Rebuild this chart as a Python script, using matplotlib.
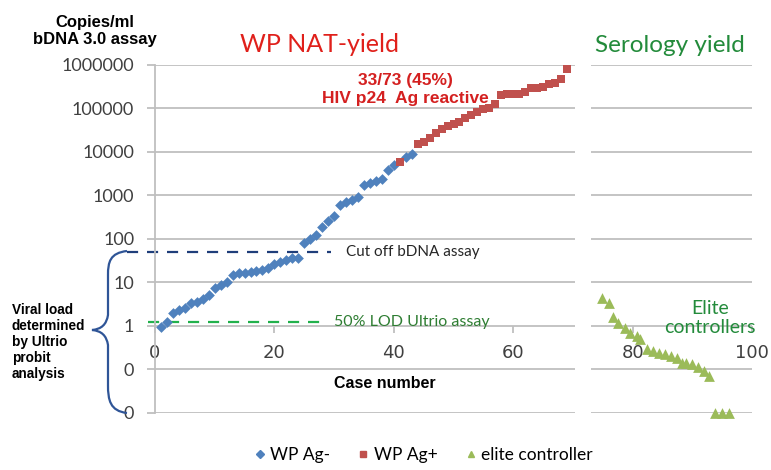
import matplotlib
matplotlib.use("Agg")
import matplotlib.pyplot as plt
from matplotlib.path import Path
from matplotlib.patches import PathPatch
from matplotlib.lines import Line2D

# Datos (copias/ml)
x_ag_neg = [1, 2, 3, 4, 5, 6, 7, 8, 9, 10, 11, 12, 13, 14, 15, 16, 17, 18, 19, 20,
            21, 22, 23, 24, 25, 26, 27, 28, 29, 30, 31, 32, 33, 34, 35, 36, 37, 38,
            39, 40, 42, 43]
y_ag_neg = [0.95, 1.2, 2.0, 2.3, 2.5, 3.4, 3.6, 4.2, 5.0, 7.5, 8.8, 10, 15, 16, 16.5,
            17, 18, 19, 21, 27, 30, 33, 36, 37, 82, 100, 120, 190, 260, 340, 600, 700,
            800, 900, 1700, 1950, 2100, 2400, 3800, 5000, 7500, 9000]

x_ag_pos = [41, 44, 45, 46, 47, 48, 49, 50, 51, 52, 53, 54, 55, 56, 57, 58, 59, 60,
            61, 62, 63, 64, 65, 66, 67, 68, 69]
y_ag_pos = [5800, 15000, 17000, 21000, 27000, 33000, 40000, 44000, 50000, 60000,
            70000, 82000, 95000, 105000, 130000, 200000, 210000, 215000, 220000,
            240000, 290000, 300000, 320000, 360000, 380000, 470000, 820000]

x_elite = [74.8, 76, 76.8, 77.6, 78.7, 79.5, 80.7, 81.2, 82.4, 83.5, 84.4, 85.4,
           86.4, 87.4, 88.2, 89, 90, 90.9, 91.9, 92.8, 93.8, 95, 96.1]
y_elite = [4.4, 3.4, 1.6, 1.17, 0.9, 0.69, 0.59, 0.5, 0.3, 0.26, 0.24, 0.22, 0.2,
           0.18, 0.14, 0.14, 0.13, 0.11, 0.09, 0.07, 0.01, 0.01, 0.01]

y_ticks = [0.01, 0.1, 1, 10, 100, 1000, 10000, 100000, 1000000]
y_tick_labels = ["0", "0", "1", "10", "100", "1000", "10000", "100000", "1000000"]
x_ticks = [0, 20, 40, 60, 80, 100]

cutoff_bdna = 50
lod_ultrio = 1.2

azul = "#4F81BD"
rojo = "#C0504D"
verde = "#9BBB59"
gris = "#BFBFBF"

W, H = 771, 470
fig = plt.figure(figsize=(W / 100, H / 100), dpi=100)
ax = fig.add_axes([155 / W, 1 - 412.7 / H, (752 - 155) / W, (412.7 - 65) / H])

ax.set_yscale("log")
ax.set_ylim(0.01, 1000000)
ax.set_xlim(0, 100)

# Cuadricula horizontal con hueco entre los dos paneles
for v in y_ticks:
    ax.plot([0, 70.3], [v, v], color=gris, lw=1.3, zorder=1, solid_capstyle="butt")
    ax.plot([73.1, 100], [v, v], color=gris, lw=1.3, zorder=1, solid_capstyle="butt")

ax.scatter(x_ag_neg, y_ag_neg, marker="D", s=30, color=azul, zorder=3, linewidths=0,
           clip_on=False)
ax.scatter(x_ag_pos, y_ag_pos, marker="s", s=34, color=rojo, zorder=3, linewidths=0,
           clip_on=False)
ax.scatter(x_elite, y_elite, marker="^", s=60, color=verde, zorder=3, linewidths=0,
           clip_on=False)

# Ejes estilo Excel
for lado in ["top", "right", "bottom"]:
    ax.spines[lado].set_visible(False)
ax.spines["left"].set_color(gris)
ax.spines["left"].set_linewidth(1.3)
ax.set_yticks(y_ticks)
ax.set_yticklabels(y_tick_labels)
ax.yaxis.set_minor_locator(matplotlib.ticker.NullLocator())
ax.tick_params(axis="y", direction="out", length=6, width=1.3, color=gris,
               pad=9, labelsize=13, labelcolor="#404040")
ax.set_xticks(x_ticks)
ax.set_xticklabels([str(t) for t in x_ticks])
ax.tick_params(axis="x", direction="out", length=5, width=1.3, color=gris,
               pad=8, labelsize=13, labelcolor="#404040")
for lbl in ax.get_xticklabels() + ax.get_yticklabels():
    lbl.set_family("Lato")
# el eje horizontal cruza en 1
ax.xaxis.set_ticks_position("bottom")
ax.spines["bottom"].set_position(("data", 1))
ax.spines["bottom"].set_visible(False)

ax.text(38.5, 0.046, "Case number", ha="center", va="center", fontsize=11.5,
        fontweight="bold", family="Liberation Sans")

# Lineas de referencia
ax.plot([-4.7, 29.4], [cutoff_bdna, cutoff_bdna], ls=(0, (5, 4)), color="#1F3E7A",
        lw=1.6, clip_on=False, zorder=2)
ax.plot([-1.2, 28], [lod_ultrio, lod_ultrio], ls=(0, (5, 4)), color="#22B14C",
        lw=1.6, clip_on=False, zorder=2)
ax.text(32, cutoff_bdna, "Cut off bDNA assay", ha="left", va="center", fontsize=11,
        color="#262626", family="Lato")
ax.text(30, lod_ultrio, "50% LOD Ultrio assay", ha="left", va="center", fontsize=11.5,
        color="#2E7D32", family="Lato")

# Textos
fig.text(95 / W, 1 - 31 / H, "Copies/ml\nbDNA 3.0 assay", ha="center", va="center",
         fontsize=12, fontweight="bold", family="Liberation Sans", linespacing=1.2)
fig.text(320 / W, 1 - 44 / H, "WP NAT-yield", ha="center", va="center",
         fontsize=18, color="#E0201B", family="Lato")
fig.text(670 / W, 1 - 46 / H, "Serology yield", ha="center", va="center",
         fontsize=17.5, color="#238B3B", family="Lato")
fig.text(405 / W, 1 - 89 / H, "33/73 (45%)\nHIV p24  Ag reactive", ha="center",
         va="center", fontsize=12.5, fontweight="bold", color="#D42020",
         family="Liberation Sans", linespacing=1.25)
fig.text(710 / W, 1 - 318 / H, "Elite\ncontrollers", ha="center", va="center",
         fontsize=14, color="#238B3B", family="Lato", linespacing=1.1)
fig.text(12 / W, 1 - 342 / H,
         "Viral load\ndetermined\nby Ultrio\nprobit\nanalysis", ha="left",
         va="center", fontsize=9.8, fontweight="bold", family="Liberation Sans",
         linespacing=1.2)

# Llave
def px(x, y):
    return (x / W, 1 - y / H)

verts = [px(127, 251), px(110, 253), px(108, 262), px(108, 275),
         px(108, 315), px(106, 329), px(92, 330),
         px(106, 331), px(108, 345), px(108, 385),
         px(108, 400), px(110, 411), px(127, 413)]
codes = [Path.MOVETO, Path.CURVE4, Path.CURVE4, Path.CURVE4,
         Path.LINETO, Path.CURVE3, Path.CURVE3,
         Path.CURVE3, Path.CURVE3, Path.LINETO,
         Path.CURVE4, Path.CURVE4, Path.CURVE4]
fig.patches.append(PathPatch(Path(verts, codes), transform=fig.transFigure,
                             fill=False, edgecolor="#2F5597", lw=1.6))

# Leyenda
handles = [
    Line2D([], [], marker="D", ls="", color=azul, markersize=4, label="WP Ag-"),
    Line2D([], [], marker="s", ls="", color=rojo, markersize=4.5, label="WP Ag+"),
    Line2D([], [], marker="^", ls="", color=verde, markersize=5, label="elite controller"),
]
fig.legend(handles=handles, loc="center", bbox_to_anchor=(421 / W, 1 - 455 / H),
           ncol=3, frameon=False, handletextpad=0.0, columnspacing=1.3,
           handlelength=1.2, prop={"family": "Lato", "size": 12.5})

fig.savefig("out.png", dpi=100)
